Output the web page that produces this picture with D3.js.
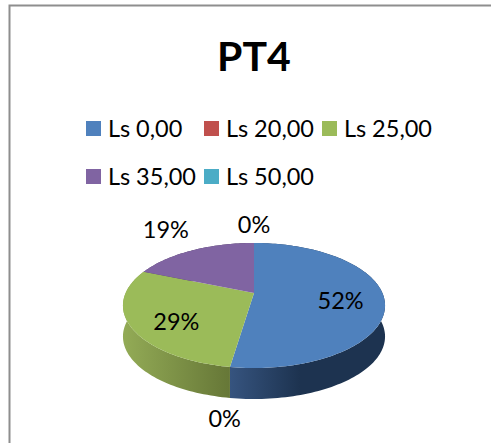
<!DOCTYPE html>
<html>
<head>
<meta charset="utf-8">
<script src="https://cdn.jsdelivr.net/npm/d3@7"></script>
<style>
  html, body { margin: 0; padding: 0; background: #fff; }
  svg { display: block; font-family: Lato, "Open Sans", sans-serif; }
</style>
</head>
<body>
<div id="chart"></div>
<script>
const categories = ['Ls 0,00', 'Ls 20,00', 'Ls 25,00', 'Ls 35,00', 'Ls 50,00'];
const shares = [52.4, 0, 28.8, 18.8, 0];
const colors = ['#4f81bd', '#c0504d', '#9bbb59', '#8064a2', '#4bacc6'];
const sideFrom = ['#36547f', '#7d3634', '#93ab56', '#57446f', '#327586'];
const sideTo = ['#1d3350', '#4d1f1e', '#667737', '#3a2c4c', '#1f4a55'];

const width = 491, height = 443;
const cx = 254, cy = 293;      // where the slices meet
const rx = 128.4, ry = 60;     // disc size
const tilt = 0.2;              // perspective, back of the disc is smaller
const depth = 31;

const svg = d3.select('#chart').append('svg').attr('width', width).attr('height', height);
const defs = svg.append('defs');

// frame runs off the right and bottom of the picture
svg.append('rect').attr('x', 9.5).attr('y', 5.5).attr('width', 520).attr('height', 480)
  .attr('fill', '#fff').attr('stroke', '#8e8e8e').attr('stroke-width', 2);

svg.append('text').attr('x', 254).attr('y', 71).attr('text-anchor', 'middle')
  .attr('font-size', 41).attr('font-weight', 700).attr('fill', '#000').text('PT4');

// legend
const legendX = d3.scalePoint().domain([0, 1, 2]).range([86, 322]);
const legendY = d3.scalePoint().domain([0, 1]).range([121, 169]);
const legend = svg.selectAll('.legend').data(categories).enter().append('g')
  .attr('class', 'legend')
  .attr('transform', (d, i) => `translate(${legendX(i % 3)},${legendY(Math.floor(i / 3))})`);
legend.append('rect').attr('width', 15).attr('height', 15).attr('fill', (d, i) => colors[i]);
legend.append('text').attr('x', 22).attr('y', 15.5).attr('font-size', 23.5).attr('fill', '#000').text(d => d);

// pie angles from d3, then projected onto the tilted disc
const pie = d3.pie().sort(null)(shares);

function project(a, r) {
  const u = Math.sin(a) * r, v = Math.cos(a) * r;
  const w = 1 + tilt * v;
  return [cx + rx * u / w, cy - ry * v / w];
}

function arcPoints(d) {
  const n = Math.max(2, Math.ceil((d.endAngle - d.startAngle) * 40));
  return d3.range(n + 1).map(i => project(d.startAngle + (d.endAngle - d.startAngle) * i / n, 1));
}

const line = d3.line();
const visible = pie.filter(d => d.value > 0);

// side wall, the top faces hide the back part of it
visible.forEach(d => {
  const pts = arcPoints(d);
  const xs = d3.extent(pts, p => p[0]);
  const id = 'side-' + d.index;
  const g = defs.append('linearGradient').attr('id', id).attr('gradientUnits', 'userSpaceOnUse')
    .attr('x1', xs[0]).attr('x2', xs[1]).attr('y1', 0).attr('y2', 0);
  g.append('stop').attr('offset', 0).attr('stop-color', sideFrom[d.index]);
  g.append('stop').attr('offset', d.index === 0 ? 0.45 : 1).attr('stop-color', sideTo[d.index]);
  const lower = pts.map(p => [p[0], p[1] + depth]).reverse();
  svg.append('path').attr('d', line(pts.concat(lower)) + 'Z').attr('fill', `url(#${id})`);
});

// top faces
svg.selectAll('.slice').data(visible).enter().append('path')
  .attr('class', 'slice')
  .attr('d', d => line([[cx, cy]].concat(arcPoints(d))) + 'Z')
  .attr('fill', d => colors[d.index]);

// labels
const labelR = [0.67, 1.4, 0.65, 1.55, 1.49];
const labelDx = [0, 8, 0, 0, 0];
const labelDy = [4, 10, 7, -3, 0];
const labelAngle = d => d.index === 4 ? d.endAngle : (d.startAngle + d.endAngle) / 2;
svg.selectAll('.pct').data(pie).enter().append('text')
  .attr('class', 'pct')
  .attr('x', d => project(labelAngle(d), labelR[d.index])[0] + labelDx[d.index])
  .attr('y', d => project(labelAngle(d), labelR[d.index])[1] + labelDy[d.index])
  .attr('text-anchor', 'middle').attr('dominant-baseline', 'central')
  .attr('font-size', 23.5).attr('fill', '#000')
  .text(d => Math.round(d.value) + '%');
</script>
</body>
</html>
